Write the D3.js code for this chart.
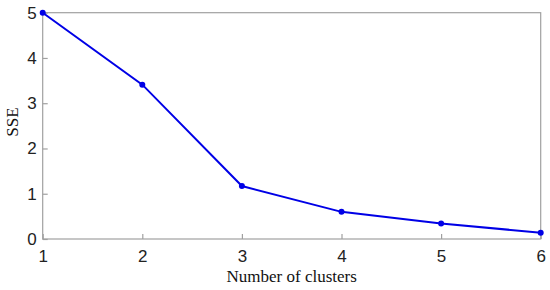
<!DOCTYPE html>
<html>
<head>
<meta charset="utf-8">
<script src="https://cdn.jsdelivr.net/npm/d3@7"></script>
<style>
  body { margin: 0; background: #fff; }
</style>
</head>
<body>
<svg width="550" height="290"></svg>
<script>
// donnees
var clusters = [1, 2, 3, 4, 5, 6];
var sse = [5.0, 3.41, 1.17, 0.60, 0.34, 0.14];
var xTicks = [1, 2, 3, 4, 5, 6];
var yTicks = [0, 1, 2, 3, 4, 5];

var plotLeft = 42.7, plotRight = 540.7, plotTop = 12.7, plotBottom = 239;

var svg = d3.select("svg");

var x = d3.scaleLinear().domain([1, 6]).range([plotLeft, plotRight]);
var y = d3.scaleLinear().domain([0, 5]).range([plotBottom, plotTop]);

// cadre
svg.append("rect")
    .attr("x", plotLeft)
    .attr("y", plotTop)
    .attr("width", plotRight - plotLeft)
    .attr("height", plotBottom - plotTop)
    .attr("fill", "none")
    .attr("stroke", "#a0a0a0")
    .attr("stroke-width", 1.2);

var tickFont = "'Liberation Sans', Arial, sans-serif";

var xAxis = svg.append("g")
    .attr("transform", "translate(0," + plotBottom + ")")
    .call(d3.axisBottom(x).tickValues(xTicks).tickSize(-5).tickPadding(11).tickFormat(d3.format("d")));

var yAxis = svg.append("g")
    .attr("transform", "translate(" + plotLeft + ",0)")
    .call(d3.axisLeft(y).tickValues(yTicks).tickSize(-5).tickPadding(6).tickFormat(d3.format("d")));

[xAxis, yAxis].forEach(function(a) {
    a.select(".domain").remove();
    a.selectAll(".tick line").attr("stroke", "#a0a0a0").attr("stroke-width", 1.2);
    a.selectAll(".tick text")
        .attr("font-family", tickFont)
        .attr("font-size", 17)
        .attr("fill", "#222");
});
xAxis.selectAll(".tick text").attr("dy", "0.71em");

// courbe
var line = d3.line()
    .x(function(d, i) { return x(clusters[i]); })
    .y(function(d) { return y(d); });

svg.append("path")
    .datum(sse)
    .attr("d", line)
    .attr("fill", "none")
    .attr("stroke", "#0000e6")
    .attr("stroke-width", 2);

svg.append("g")
    .selectAll("circle")
    .data(sse)
    .enter()
    .append("circle")
    .attr("cx", function(d, i) { return x(clusters[i]); })
    .attr("cy", function(d) { return y(d); })
    .attr("r", 3)
    .attr("fill", "#0000e6");

// titres des axes
svg.append("text")
    .attr("x", (plotLeft + plotRight) / 2)
    .attr("y", 282)
    .attr("text-anchor", "middle")
    .attr("font-family", "'Liberation Serif', 'Times New Roman', serif")
    .attr("font-size", 17)
    .attr("fill", "#111")
    .text("Number of clusters");

svg.append("text")
    .attr("transform", "translate(18,122) rotate(-90)")
    .attr("text-anchor", "middle")
    .attr("font-family", "'Liberation Serif', 'Times New Roman', serif")
    .attr("font-size", 17)
    .attr("fill", "#111")
    .text("SSE");
</script>
</body>
</html>
